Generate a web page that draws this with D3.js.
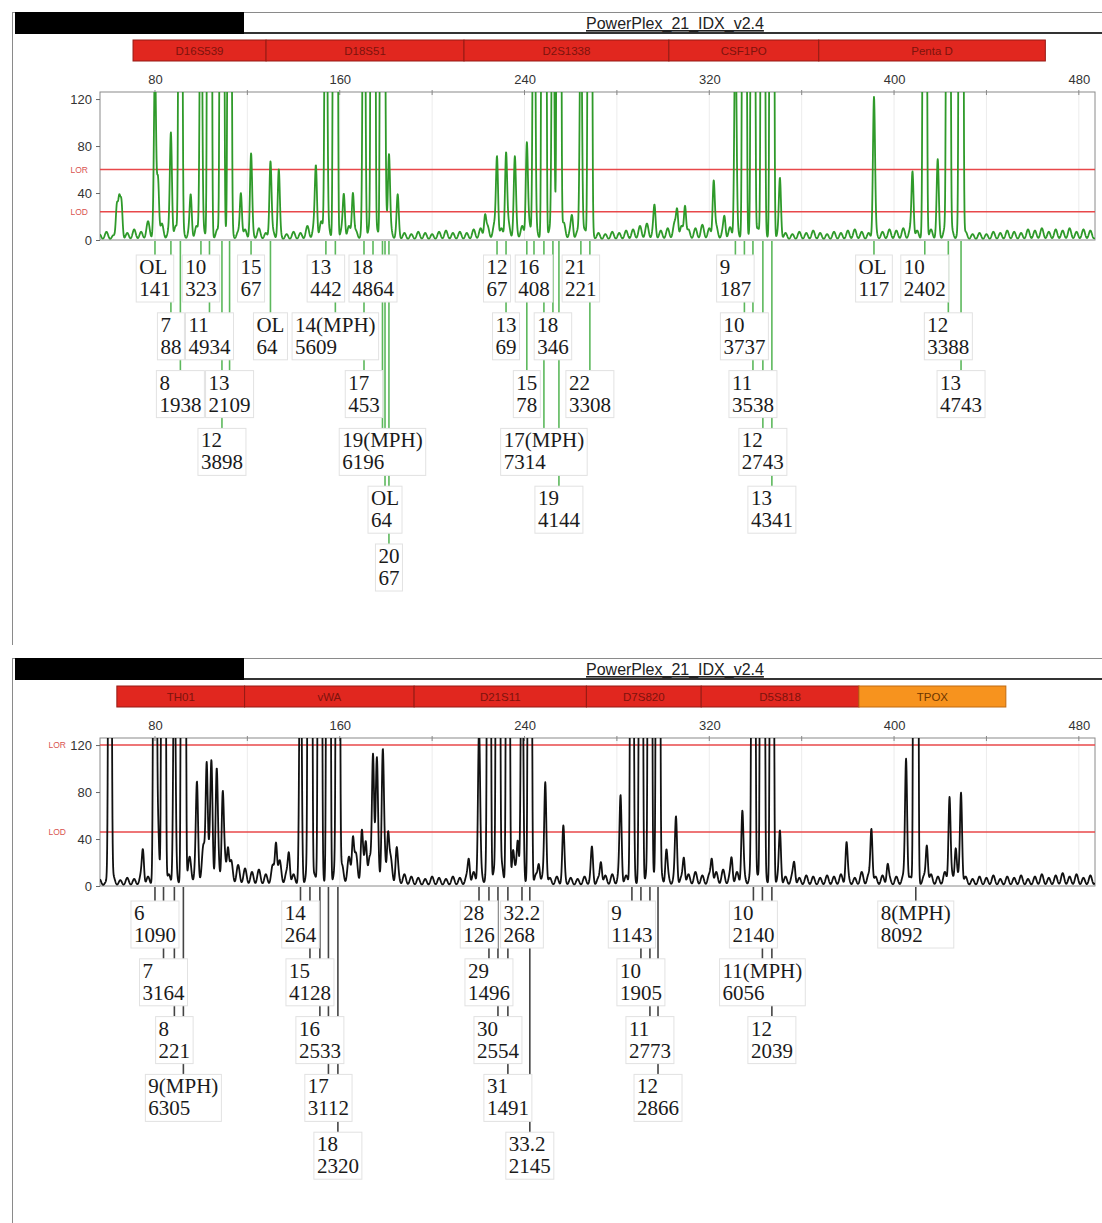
<!DOCTYPE html>
<html>
<head>
<meta charset="utf-8">
<script src="https://cdn.jsdelivr.net/npm/d3@7"></script>
<style>
  body { margin: 0; background: #fff; }
  svg { display: block; }
</style>
</head>
<body>
<div id="chart"></div>
<script>
// ---------- data ----------
var kitName = "PowerPlex_21_IDX_v2.4";
var xTicks = [80, 160, 240, 320, 400, 480];
var yTicks = [0, 40, 80, 120];

// locus bins (edges in bp)
var topLoci = ["D16S539", "D18S51", "D2S1338", "CSF1PO", "Penta D"];
var topLociEdges = [70.5, 128.1, 213.8, 302.5, 367.4, 465.5];
var bottomLoci = ["TH01", "vWA", "D21S11", "D7S820", "D5S818", "TPOX"];
var bottomLociEdges = [63.5, 118.8, 192.2, 266.8, 316.5, 384.8, 448.4];
var flaggedLoci = ["TPOX"];

// thresholds (RFU)
var topLOR = 60, topLOD = 24;
var bottomLOR = 120, bottomLOD = 46;

// called alleles, in the order the labels were placed
var topAlleles = ["OL", "7", "8", "10", "11", "12", "13", "15", "OL",
  "13", "14(MPH)", "18", "17", "19(MPH)", "OL", "20",
  "12", "13", "16", "15", "17(MPH)", "18", "19", "21", "22",
  "9", "10", "11", "12", "13",
  "OL", "10", "12", "13"];
var topSizes = [80.0, 86.9, 91.0, 99.9, 103.6, 109.0, 112.3, 121.6, 130.0,
  154.0, 158.1, 174.4, 170.5, 178.5, 179.6, 181.3,
  228.1, 232.0, 244.1, 241.0, 248.4, 252.3, 254.9, 264.4, 268.3,
  331.3, 335.2, 338.9, 343.2, 347.1,
  391.3, 413.3, 423.5, 429.0];
var topRfu = [141, 88, 1938, 323, 4934, 3898, 2109, 67, 64,
  442, 5609, 4864, 453, 6196, 64, 67,
  67, 69, 408, 78, 7314, 346, 4144, 221, 3308,
  187, 3737, 3538, 2743, 4341,
  117, 2402, 3388, 4743];

var bottomAlleles = ["6", "7", "8", "9(MPH)",
  "14", "15", "16", "17", "18",
  "28", "29", "30", "31", "32.2", "33.2",
  "9", "10", "11", "12",
  "10", "11(MPH)", "12",
  "8(MPH)"];
var bottomSizes = [80.0, 83.7, 88.4, 92.3,
  143.0, 147.1, 151.4, 155.1, 159.2,
  220.3, 224.6, 228.5, 232.8, 238.9, 242.3,
  286.5, 290.4, 294.3, 297.8,
  339.1, 343.0, 347.1,
  409.4];
var bottomRfu = [1090, 3164, 221, 6305,
  264, 4128, 2533, 3112, 2320,
  126, 1496, 2554, 1491, 268, 2145,
  1143, 1905, 2773, 2866,
  2140, 6056, 2039,
  8092];

// uncalled peaks (stutter, pull-up, artefacts)
var topExtraBp = [63.5, 64.5, 65.5, 81.3, 95.5, 117.2, 133.6, 149.7, 161.8, 165.7, 185.1, 222.9,
  235.8, 260.6, 296.3, 306.1, 309.5, 321.9, 326.6, 350.6, 408.0, 418.9];
var topExtraRfu = [28, 28, 26, 50, 31, 38, 55, 55, 34, 38, 31, 18,
  54, 14, 20, 22, 27, 47, 14, 48, 55, 61];
var bottomExtraBp = [60.5, 74.8, 81.3, 98.2, 102.4, 104.5, 106.7, 109.3, 111.6, 132.4, 138.0,
  165.7, 169.5, 171.3, 174.4, 176.1, 178.6, 180.9, 184.6, 215.9, 235.0, 237.1, 246.2, 249.0,
  256.8, 269.2, 273.1, 281.6, 301.4, 305.6, 309.0, 321.1, 329.7, 334.3, 350.6, 356.8, 379.4,
  390.2, 397.2, 405.2, 414.2, 424.0, 426.7, 429.0];
var bottomExtraRfu = [1000, 26, 50, 60, 98, 75, 68, 63, 28, 33, 24,
  36, 30, 33, 106, 65, 82, 38, 20, 19, 25, 34, 16, 85,
  42, 24, 18, 69, 24, 53, 21, 20, 18, 58, 41, 15, 31,
  46, 15, 106, 32, 72, 30, 76];

// baseline noise, one reading every 3 bp from 56 bp
var noiseStart = 56, noiseStep = 3;
var topNoise = [5, 7, 4, 8, 6, 9, 7, 16, 10, 14,
  8, 12, 9, 10, 12, 8, 10, 9, 8, 10,
  7, 9, 8, 10, 6, 8, 6, 5, 7, 6,
  12, 14, 16, 12, 18, 10, 12, 8, 10, 12,
  9, 14, 10, 8, 6, 5, 7, 6, 5, 7,
  8, 6, 7, 6, 9, 10, 12, 14, 10, 15,
  18, 12, 14, 10, 12, 9, 11, 15, 10, 8,
  9, 10, 6, 5, 7, 6, 8, 9, 12, 14,
  11, 8, 10, 15, 12, 9, 10, 13, 10, 12,
  9, 11, 10, 12, 9, 10, 8, 10, 7, 6,
  5, 7, 6, 8, 6, 5, 7, 6, 8, 9,
  7, 6, 8, 7, 9, 8, 10, 9, 8, 10,
  9, 8, 10, 9, 8, 7, 5, 6, 5, 7,
  6, 8, 7, 6, 9, 8, 10, 7, 9, 8,
  10, 7, 9, 8, 6];
var bottomNoise = [6, 4, 8, 5, 7, 6, 10, 8, 12, 15,
  10, 12, 14, 25, 30, 35, 40, 35, 28, 22,
  18, 15, 12, 14, 10, 18, 22, 12, 10, 12,
  15, 10, 14, 12, 15, 18, 25, 28, 22, 25,
  45, 40, 25, 15, 10, 8, 7, 6, 8, 7,
  6, 8, 7, 9, 12, 15, 18, 14, 20, 16,
  14, 18, 12, 10, 9, 7, 8, 10, 7, 6,
  8, 10, 7, 9, 10, 12, 9, 12, 10, 11,
  9, 12, 10, 9, 8, 10, 12, 9, 10, 12,
  14, 10, 12, 10, 12, 9, 11, 10, 9, 8,
  10, 7, 9, 8, 7, 9, 8, 10, 9, 7,
  12, 10, 8, 9, 7, 8, 9, 8, 7, 9,
  10, 8, 12, 10, 9, 8, 6, 8, 7, 9,
  6, 8, 7, 9, 6, 8, 10, 7, 9, 11,
  8, 10, 7, 9, 8];

// ---------- layout ----------
var W = 1102, H = 1223;
var xDomain = [56.2, 487];
var plotLeft = 100, plotRight = 1095;
var peakSd = 0.45, noiseSd = 0.7;
var labelFont = "'Liberation Serif', 'Times New Roman', serif";

var svg = d3.select("#chart").append("svg")
    .attr("width", W)
    .attr("height", H)
    .style("font-family", "'Liberation Sans', Arial, sans-serif");

var x = d3.scaleLinear().domain(xDomain).range([plotLeft, plotRight]);

function drawPanel(cfg) {
    var g = svg.append("g").attr("transform", "translate(0," + cfg.oy + ")");
    var plotTop = 92, plotBottom = 240;
    var y = d3.scaleLinear().domain([0, 126]).range([plotBottom, plotTop]);

    // header frame
    g.append("line").attr("x1", 12).attr("x2", W).attr("y1", 12.5).attr("y2", 12.5)
        .attr("stroke", "#8a8a8a");
    g.append("line").attr("x1", 12.5).attr("x2", 12.5).attr("y1", 12).attr("y2", cfg.frameBottom)
        .attr("stroke", "#8a8a8a");
    g.append("rect").attr("x", 15).attr("y", 12).attr("width", 229).attr("height", 22)
        .attr("fill", "#000");
    g.append("line").attr("x1", 244).attr("x2", W).attr("y1", 33).attr("y2", 33)
        .attr("stroke", "#333").attr("stroke-width", 2);
    g.append("text").attr("x", 586).attr("y", 29)
        .attr("font-size", 16).attr("fill", "#222")
        .style("text-decoration", "underline")
        .text(kitName);

    // locus bins
    var bins = cfg.loci.map(function (name, i) {
        return { name: name, lo: cfg.edges[i], hi: cfg.edges[i + 1] };
    });
    var bin = g.selectAll(".locus").data(bins).enter().append("g").attr("class", "locus");
    bin.append("rect")
        .attr("x", function (d) { return x(d.lo); })
        .attr("y", 40)
        .attr("width", function (d) { return x(d.hi) - x(d.lo); })
        .attr("height", 21)
        .attr("fill", function (d) { return flaggedLoci.indexOf(d.name) > -1 ? "#f7931e" : "#e1271f"; })
        .attr("stroke", function (d) { return flaggedLoci.indexOf(d.name) > -1 ? "#c06a10" : "#951b14"; });
    bin.append("text")
        .attr("x", function (d) { return (x(d.lo) + x(d.hi)) / 2; })
        .attr("y", 55)
        .attr("text-anchor", "middle")
        .attr("font-size", 11.5)
        .attr("fill", function (d) { return flaggedLoci.indexOf(d.name) > -1 ? "#6e3600" : "#7d130d"; })
        .text(function (d) { return d.name; });

    // plot box and grid (only inside the plotted size range)
    var grid = d3.range(40, 481, 40).filter(function (d) { return d > xDomain[0] && d < xDomain[1]; });
    g.selectAll(".grid").data(grid).enter().append("line")
        .attr("x1", function (d) { return x(d); }).attr("x2", function (d) { return x(d); })
        .attr("y1", plotTop).attr("y2", plotBottom)
        .attr("stroke", "#ececec");
    g.selectAll(".topTick").data(grid).enter().append("line")
        .attr("x1", function (d) { return x(d); }).attr("x2", function (d) { return x(d); })
        .attr("y1", plotTop - 2).attr("y2", plotTop + 3)
        .attr("stroke", "#888");
    g.append("rect").attr("x", plotLeft).attr("y", plotTop)
        .attr("width", plotRight - plotLeft).attr("height", plotBottom - plotTop)
        .attr("fill", "none").attr("stroke", "#8a8a8a");

    // thresholds
    var thr = [{ name: "LOR", v: cfg.lor }, { name: "LOD", v: cfg.lod }];
    g.selectAll(".thr").data(thr).enter().append("line")
        .attr("x1", plotLeft).attr("x2", plotRight)
        .attr("y1", function (d) { return y(d.v); }).attr("y2", function (d) { return y(d.v); })
        .attr("stroke", "#e8484a").attr("stroke-width", 1.5);
    g.selectAll(".thrLabel").data(thr).enter().append("text")
        .attr("x", function (d) {
            var near = yTicks.some(function (t) { return Math.abs(t - d.v) < 8; });
            return near ? 66 : 88;
        })
        .attr("y", function (d) { return y(d.v) + 3; })
        .attr("text-anchor", "end")
        .attr("font-size", 8.5)
        .attr("fill", "#d9534f")
        .text(function (d) { return d.name; });

    // trace: every peak and noise reading drawn as a narrow gaussian
    var peaks = [];
    cfg.sizes.forEach(function (s, i) { peaks.push({ bp: s, h: cfg.rfu[i], sd: peakSd }); });
    cfg.extraBp.forEach(function (s, i) { peaks.push({ bp: s, h: cfg.extraRfu[i], sd: peakSd }); });
    cfg.noise.forEach(function (v, i) { peaks.push({ bp: noiseStart + i * noiseStep, h: v, sd: noiseSd }); });
    var pts = d3.range(xDomain[0], xDomain[1], 0.1).map(function (bp) {
        var v = 0;
        peaks.forEach(function (p) {
            var d = bp - p.bp;
            if (Math.abs(d) < 6 * p.sd) v += p.h * Math.exp(-d * d / (2 * p.sd * p.sd));
        });
        return [bp, Math.min(v, 150)];
    });
    g.append("clipPath").attr("id", "clip" + cfg.id)
        .append("rect").attr("x", plotLeft).attr("y", plotTop)
        .attr("width", plotRight - plotLeft).attr("height", plotBottom - plotTop);
    g.append("path")
        .datum(pts)
        .attr("clip-path", "url(#clip" + cfg.id + ")")
        .attr("fill", "none")
        .attr("stroke", cfg.traceColor)
        .attr("stroke-width", 1.8)
        .attr("stroke-linejoin", "round")
        .attr("d", d3.line().x(function (d) { return x(d[0]); }).y(function (d) { return y(d[1]); }));

    // axes
    var yAxis = g.append("g").attr("transform", "translate(" + plotLeft + ",0)")
        .call(d3.axisLeft(y).tickValues(yTicks).tickSize(4).tickPadding(4));
    yAxis.select(".domain").remove();
    yAxis.selectAll("text").attr("font-size", 13).attr("fill", "#333");
    yAxis.selectAll("line").attr("stroke", "#666");
    var xAxis = g.append("g").attr("transform", "translate(0," + plotTop + ")")
        .call(d3.axisTop(x).tickValues(xTicks).tickSize(0).tickPadding(8));
    xAxis.select(".domain").remove();
    xAxis.selectAll("text").attr("font-size", 13).attr("fill", "#333");

    // allele labels, stacked into rows so they do not collide
    var labels = cfg.alleles.map(function (a, i) {
        return { allele: a, size: cfg.sizes[i], rfu: cfg.rfu[i] };
    });
    var lg = g.append("g");
    var probe = lg.append("text").style("font-family", labelFont).attr("font-size", 21);
    labels.forEach(function (d) {
        var w1 = probe.text(d.allele).node().getComputedTextLength();
        var w2 = probe.text(String(d.rfu)).node().getComputedTextLength();
        d.w = Math.max(w1, w2);
    });
    probe.remove();

    var rows = [], gap = 4;
    labels.forEach(function (d) {
        d.x0 = x(d.size) - d.w / 2;
        d.x1 = d.x0 + d.w;
        var r = 0;
        while (rows[r] && rows[r].some(function (o) { return d.x0 < o.x1 + gap && o.x0 < d.x1 + gap; })) r++;
        (rows[r] = rows[r] || []).push(d);
        d.row = r;
        d.base = plotBottom + 34 + r * 57.8;
    });

    lg.selectAll(".link").data(labels).enter().append("line")
        .attr("x1", function (d) { return x(d.size); })
        .attr("x2", function (d) { return x(d.size); })
        .attr("y1", plotBottom + 1)
        .attr("y2", function (d) { return d.base - 19; })
        .attr("stroke", cfg.linkColor)
        .attr("stroke-width", 1.6);

    var lab = lg.selectAll(".lab").data(labels).enter().append("g");
    lab.append("rect")
        .attr("x", function (d) { return d.x0 - 3; })
        .attr("y", function (d) { return d.base - 19; })
        .attr("width", function (d) { return d.w + 6; })
        .attr("height", 47)
        .attr("fill", "#fff")
        .attr("stroke", "#e2e2e2");
    lab.append("text")
        .attr("x", function (d) { return d.x0; })
        .attr("y", function (d) { return d.base; })
        .style("font-family", labelFont).attr("font-size", 21).attr("fill", "#1a1a1a")
        .text(function (d) { return d.allele; });
    lab.append("text")
        .attr("x", function (d) { return d.x0; })
        .attr("y", function (d) { return d.base + 22; })
        .style("font-family", labelFont).attr("font-size", 21).attr("fill", "#1a1a1a")
        .text(function (d) { return d.rfu; });
}

drawPanel({
    id: "top", oy: 0, frameBottom: 645,
    loci: topLoci, edges: topLociEdges,
    alleles: topAlleles, sizes: topSizes, rfu: topRfu,
    extraBp: topExtraBp, extraRfu: topExtraRfu, noise: topNoise,
    lor: topLOR, lod: topLOD,
    traceColor: "#2f9a2a", linkColor: "#5cb85c"
});

drawPanel({
    id: "bottom", oy: 646, frameBottom: H,
    loci: bottomLoci, edges: bottomLociEdges,
    alleles: bottomAlleles, sizes: bottomSizes, rfu: bottomRfu,
    extraBp: bottomExtraBp, extraRfu: bottomExtraRfu, noise: bottomNoise,
    lor: bottomLOR, lod: bottomLOD,
    traceColor: "#111", linkColor: "#444"
});
</script>
</body>
</html>
